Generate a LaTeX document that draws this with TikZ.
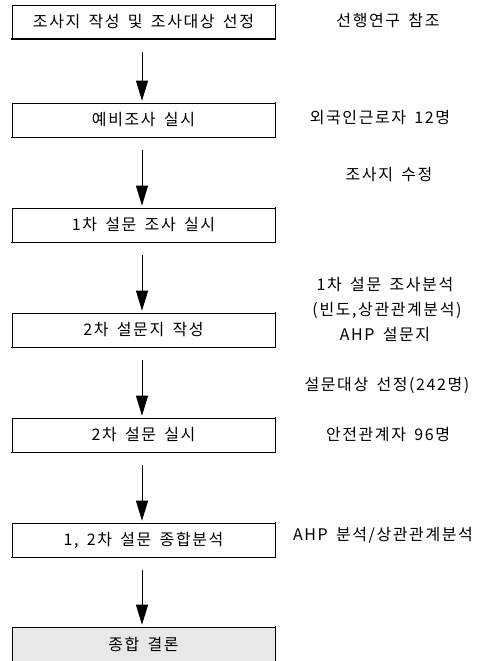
\documentclass[tikz,border=0pt]{standalone}
\usepackage{fontspec}
\setmainfont[LetterSpace=10, WordSpace=1.6]{Noto Sans CJK KR}
\usetikzlibrary{arrows.meta}

\tikzset{
  stepbox/.style={draw, line width=0.6pt, minimum width=263pt, minimum height=34pt,
    inner sep=0pt, font=\fontsize{16}{19}\selectfont},
  note/.style={font=\fontsize{16}{19}\selectfont, inner sep=0pt},
  flow/.style={line width=0.9pt, -{Triangle[length=20pt, width=12pt]}},
  rim/.style={line width=1.6pt, line cap=rect}
}

\begin{document}
\begin{tikzpicture}[x=1pt, y=-1pt]
	\useasboundingbox (0,0) rectangle (489,661);
	
	% steps
	\node[stepbox] (s1) at (143.5, 22) {조사지 작성 및 조사대상 선정};
	\node[stepbox] (s2) at (143.5, 120) {예비조사 실시};
	\node[stepbox] (s3) at (143.5, 225) {1차 설문 조사 실시};
	\node[stepbox] (s4) at (143.5, 330) {2차 설문지 작성};
	\node[stepbox] (s5) at (143.5, 435) {2차 설문 실시};
	\node[stepbox] (s6) at (143.5, 540) {1, 2차 설문 종합분석};
	\node[stepbox, fill=gray!18] (s7) at (143.5, 644) {종합 결론};
	
	\foreach \b in {s1, s2, s3, s4, s5, s6, s7}
		\draw[rim] (\b.north east) -- (\b.south east) -- (\b.south west);
	
	% arrows
	\foreach \a/\b in {s1/s2, s2/s3, s3/s4, s4/s5, s5/s6, s6/s7}
		\draw[flow] ([xshift=-1.5pt, yshift=-13pt]\a.south) -- ([xshift=-1.5pt, yshift=2pt]\b.north);
	
	% notes
	\node[note] (n1) at (388, 20) {선행연구 참조};
	\node[note] (n2) at (380, 118) {외국인근로자 12명};
	\node[note] (n3) at (389, 175) {조사지 수정};
	\node[note] (n4) at (385, 285) {1차 설문 조사분석};
	\node[note] (n5) at (387, 310) {(빈도,상관관계분석)};
	\node[note] (n6) at (385, 335) {AHP 설문지};
	\node[note] (n7) at (387, 385) {설문대상 선정(242명)};
	\node[note] (n8) at (388, 435) {안전관계자 96명};
	\node[note] (n9) at (383, 535) {AHP 분석/상관관계분석};
\end{tikzpicture}
\end{document}
